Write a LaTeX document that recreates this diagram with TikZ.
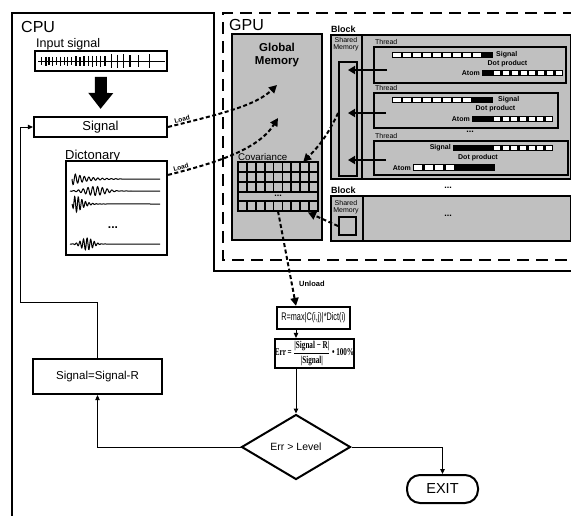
\documentclass[tikz,border=0pt]{standalone}
\usepackage{graphicx}
\usepackage{fontspec}
\setmainfont{Liberation Sans}
\newfontfamily\serifb{Liberation Serif}
\usetikzlibrary{arrows.meta,shapes.geometric,calc}
\definecolor{gfill}{RGB}{192,192,192}
\newcommand{\segbar}[7]{%
  \fill[black] (#1,#3) rectangle (#2,#4);
  \pgfmathsetmacro{\segw}{(#6-#5)/#7}
  \foreach \k in {1,...,#7}{
    \fill[white] ({#5+(\k-1)*\segw+1.3},{#3+1.3}) rectangle ({#5+\k*\segw-1.3},{#4-1.3});
  }}
\tikzset{
  lbl/.style={inner sep=0},
  bx/.style={draw, line width=2.2pt, inner sep=0},
  gbox/.style={draw, line width=1.8pt, fill=gfill, inner sep=0},
  darr/.style={line width=2pt, dash pattern=on 4pt off 2.5pt, -{Triangle[length=8pt,width=8pt]}},
  farr/.style={line width=1pt, -{Triangle[length=5pt,width=4.5pt]}},
  tarr/.style={line width=2pt, -{Triangle[length=7pt,width=8pt]}},
  wv/.style={line width=1pt},
  small/.style={inner sep=0, font=\bfseries\fontsize{7}{7}\selectfont},
  dots/.style={inner sep=0, font=\bfseries\fontsize{12}{12}\selectfont},
}
\begin{document}
\begin{tikzpicture}[x=1pt,y=-1pt]
\useasboundingbox (0,0) rectangle (571,515);

% frames
\draw[line width=1.5pt] (12,520) -- (12,13) -- (214,13) -- (214,271) -- (575,271);
\draw[line width=2.2pt, dash pattern=on 12pt off 7pt] (575,13) -- (223,13) -- (223,260) -- (575,260);

\node[lbl, font=\fontsize{16}{16}\selectfont, anchor=base west] (cpul) at (21,32) {CPU};
\node[lbl, font=\fontsize{16}{16}\selectfont, anchor=base west] (gpul) at (229,30) {GPU};

% input signal
\node[lbl, font=\fontsize{12.5}{13}\selectfont, anchor=base west] (inl) at (36,47) {Input signal};
\node[bx, line width=1.8pt, minimum width=132pt, minimum height=20pt] (inbox) at (101,61) {};
\draw[line width=0.9pt] (38,61) -- (165,61);
\foreach \xx/\aa in {41.7/4,46/4.5,49/4,52.7/4.5,56.7/4,60.7/4.5,64.3/4,67.7/4.5,71.7/4,76/5,80/4.5,84/5,88.3/5,92.7/5.5,96.7/5,100.7/5.5,105/5,111.7/7,117.3/6.5,123.3/7,130/6,138.3/6,149.3/7}
  \draw[line width=1.2pt] (\xx,61-\aa) -- (\xx,61+\aa);

% signal box
\node[bx, minimum width=133pt, minimum height=20pt, font=\fontsize{13}{13}\selectfont] (signal) at (100.5,127) {Signal};
\draw[line width=12pt, shorten <=5pt, shorten >=7pt, -{Triangle[width=24pt,length=16pt]}] (inbox.south) -- (signal.north);

% dictionary
\node[lbl, font=\fontsize{13}{13}\selectfont, anchor=base west] (dictl) at (65,159) {Dictonary};
\node[bx, minimum width=101pt, minimum height=94pt] (dict) at (116.5,208) {};
\draw[wv] plot[domain=0:50, samples=150] ({72+\x},{179+6*exp(-\x/15)*sin(\x*80)}) -- (160,179);
\draw[wv] plot[domain=0:65, samples=180] ({70+\x},{191+4.5*exp(-((\x-25)/14)^2)*sin(\x*75)}) -- (160,191);
\draw[wv] plot[domain=0:35, samples=120] ({72+\x},{204+8*(\x/4)*exp(1-\x/4)*sin(\x*100)}) -- (160,204);
\node[dots] (ddots) at (113,228) {...};
\draw[wv] plot[domain=0:45, samples=150] ({70+\x},{244+6*exp(-((\x-17)/8)^2)*sin(\x*100)}) -- (160,244);

% global memory
\node[gbox, minimum width=90pt, minimum height=206pt] (gm) at (277,137) {};
\node[lbl, font=\bfseries\fontsize{11.5}{13.5}\selectfont, align=center] (gml) at (277,55) {Global\\Memory};
\node[lbl, font=\fontsize{9.7}{10}\selectfont, anchor=base west] (covl) at (238,160) {Covariance};
\draw[line width=2pt] (238,162) rectangle (318,211);
\foreach \i in {1,...,8}{
  \draw[line width=1.8pt] ({238+\i*80/9},162) -- ({238+\i*80/9},192);
  \draw[line width=1.8pt] ({238+\i*80/9},201) -- ({238+\i*80/9},211);
}
\foreach \yy in {172,182,192,201} \draw[line width=1.8pt] (238,\yy) -- (318,\yy);
\node[dots, font=\bfseries\fontsize{9}{9}\selectfont] (cdots) at (278,195.5) {...};
\node[inner sep=0, minimum width=80pt, minimum height=49pt] (cov) at (278,186.5) {};

% block 1
\node[lbl, font=\bfseries\fontsize{9}{9}\selectfont, anchor=base west] (b1l) at (331,32) {Block};
\node[gbox, minimum width=240pt, minimum height=144pt, anchor=north west] (b1) at (330,34) {};
\draw[line width=1.8pt] (362,34) -- (362,178);
\node[lbl, font=\fontsize{7}{7.5}\selectfont, align=center] (sm1l) at (346,44) {Shared\\Memory};
\node[draw, line width=1.8pt, minimum width=18pt, minimum height=114pt, inner sep=0] (shm1) at (348,119) {};

\node[gbox, minimum width=192pt, minimum height=36pt, anchor=north west] (th1) at (373,46) {};
\node[gbox, minimum width=184pt, minimum height=35pt, anchor=north west] (th2) at (373,92) {};
\node[gbox, minimum width=194pt, minimum height=34pt, anchor=north west] (th3) at (373,140) {};
\node[lbl, font=\fontsize{7}{7}\selectfont, anchor=base west] (t1l) at (375,44) {Thread};
\node[lbl, font=\fontsize{7}{7}\selectfont, anchor=base west] (t2l) at (375,90) {Thread};
\node[lbl, font=\fontsize{7}{7}\selectfont, anchor=base west] (t3l) at (375,138) {Thread};
\node[dots, font=\bfseries\fontsize{9}{9}\selectfont] (tdots) at (470,132) {...};

% thread 1
\segbar{392}{493}{52}{58}{392}{482}{9}
\node[small, anchor=west] (s1l) at (496,55) {Signal};
\node[small] (d1l) at (507.5,63.5) {Dot product};
\node[small, anchor=east] (a1l) at (480,73) {Atom};
\segbar{482}{563}{70}{76}{493}{563}{8}
% thread 2
\segbar{392}{493}{97}{103}{392}{472}{8}
\node[small, anchor=west] (s2l) at (498,100) {Signal};
\node[small] (d2l) at (495.5,108.5) {Dot product};
\node[small, anchor=east] (a2l) at (470,119) {Atom};
\segbar{472}{553}{116}{122}{493}{553}{7}
% thread 3
\node[small, anchor=east] (s3l) at (451,148) {Signal};
\segbar{453}{553}{145}{151}{493}{553}{7}
\node[small] (d3l) at (478,157.5) {Dot product};
\node[small, anchor=east] (a3l) at (411,168) {Atom};
\segbar{413}{495}{164}{171}{413}{455}{4}

\coordinate (p1) at (387,70);
\coordinate (p2) at (386,113);
\coordinate (p3) at (386,160);
\draw[tarr] (p1) -- (p1 -| shm1.center);
\draw[tarr] (p2) -- (p2 -| shm1.center);
\draw[tarr] (p3) -- (p3 -| shm1.center);

% block 2
\node[lbl, font=\bfseries\fontsize{9}{9}\selectfont, anchor=base west] (b2l) at (331,193) {Block};
\node[dots, font=\bfseries\fontsize{9}{9}\selectfont] (bdots) at (448,188) {...};
\node[gbox, minimum width=240pt, minimum height=45pt, anchor=north west] (b2) at (330,195) {};
\draw[line width=1.8pt] (363,195) -- (363,240);
\node[lbl, font=\fontsize{7}{7.5}\selectfont, align=center] (sm2l) at (346,207) {Shared\\Memory};
\node[draw, line width=2pt, minimum width=17pt, minimum height=18pt, inner sep=0] (sq) at (347.5,226) {};
\node[dots, font=\bfseries\fontsize{9}{9}\selectfont] (b2dots) at (448,216) {...};

% dashed transfers
\draw[darr] ([yshift=6pt]shm1.west) to[bend left=10] ([xshift=-15pt]cov.north east);
\draw[darr, shorten >=3pt] (sq.west) -- ([xshift=-13pt]cov.south east);

\coordinate (ld1) at (277,85);
\coordinate (ld2) at (278,118);
\draw[darr] (signal.east) .. controls (220,114) and (255,106) .. (ld1)
  node[pos=0.1, sloped, above, inner sep=1pt, font=\bfseries\fontsize{6.5}{6.5}\selectfont] (ldl1) {Load};
\draw[darr] ([yshift=-15pt]dict.north east) .. controls (215,163) and (258,150) .. (ld2)
  node[pos=0.1, sloped, above, inner sep=1pt, font=\bfseries\fontsize{6.5}{6.5}\selectfont] (ldl2) {Load};

% flowchart
\node[bx, minimum width=73pt, minimum height=22pt, font=\fontsize{11}{11}\selectfont] (R) at (313.5,318) {\scalebox{0.66}[1]{R=max|C(i,j)|*Dict(i)}};
\node[bx, minimum width=75pt, minimum height=29pt] (err) at (314.5,353.5)
  {\scalebox{0.68}[1]{\serifb\bfseries\fontsize{10.5}{10.5}\selectfont Err = $\displaystyle\frac{\mbox{|Signal − R|}}{\mbox{|Signal|}}$ • 100\%}};
\node[draw, diamond, line width=2pt, minimum width=109pt, minimum height=65pt, inner sep=0, font=\fontsize{10.5}{10.5}\selectfont] (dia) at (296,447) {Err > Level};
\node[draw, rounded corners=13pt, line width=2pt, minimum width=71pt, minimum height=28pt, font=\fontsize{14.5}{14.5}\selectfont] (exit) at (442.5,489) {EXIT};
\node[bx, minimum width=129pt, minimum height=35pt, font=\fontsize{11.5}{11.5}\selectfont] (ssr) at (97.5,376.5) {Signal=Signal-R};

\draw[darr] (cov.south) -- (dia.north |- R.north);
\node[lbl, font=\bfseries\fontsize{7.5}{7.5}\selectfont, anchor=west] (unl) at (299,284) {Unload};

\draw[farr] (dia.north |- R.south) -- (dia.north |- err.north);
\draw[farr] (dia.north |- err.south) -- (dia.north);
\draw[farr] (dia.east) -| (exit.north);
\draw[farr] (dia.west) -| (ssr.south);
\coordinate (lp) at (20,302);
\draw[farr] (ssr.north) |- (lp) |- (signal.west);
\end{tikzpicture}
\end{document}
